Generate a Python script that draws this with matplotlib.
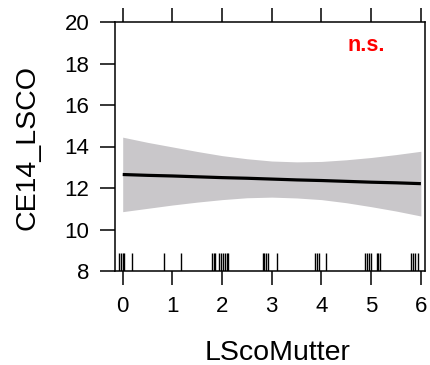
import matplotlib
matplotlib.use("Agg")
import matplotlib.pyplot as plt
import numpy as np

# Fitted effect of LScoMutter on CE14_LSCO with 95% confidence band
grid_x = [0, 0.5, 1, 1.5, 2, 2.5, 3, 3.5, 4, 4.5, 5, 5.5, 6]
fit_y = [12.65, 12.61, 12.58, 12.54, 12.50, 12.47, 12.43, 12.39, 12.36, 12.32, 12.28, 12.25, 12.21]
band_upper = [14.45, 14.20, 13.98, 13.76, 13.56, 13.41, 13.30, 13.26, 13.28, 13.36, 13.47, 13.61, 13.77]
band_lower = [10.86, 11.02, 11.18, 11.32, 11.44, 11.53, 11.56, 11.52, 11.44, 11.29, 11.10, 10.89, 10.65]

# Observed (jittered) LScoMutter values shown as a rug
rug_x = [-0.07, -0.03, 0.00, 0.03, 0.18, 0.83, 1.17, 1.79, 1.83, 1.86, 1.94, 1.98,
         2.02, 2.06, 2.10, 2.12, 2.82, 2.85, 2.88, 2.93, 3.10, 3.87, 3.90, 3.96,
         4.10, 4.88, 4.92, 4.96, 5.00, 5.11, 5.14, 5.18, 5.81, 5.85, 5.88, 5.95]

x_ticks = [0, 1, 2, 3, 4, 5, 6]
y_ticks = [8, 10, 12, 14, 16, 18, 20]

plt.rcParams['font.family'] = ['Liberation Sans', 'DejaVu Sans']

W, H = 431, 365
fig = plt.figure(figsize=(W / 100, H / 100), dpi=100)
left, right, top, bottom = 115.3, 425.0, 22.0, 271.0
ax = fig.add_axes([left / W, 1 - bottom / H, (right - left) / W, (bottom - top) / H])

ax.fill_between(grid_x, band_lower, band_upper, color='#c9c7ca', linewidth=0)
ax.plot(grid_x, fit_y, color='black', linewidth=2.3, solid_capstyle='butt')
ax.vlines(rug_x, 8, 8.87, color='black', linewidth=1.0)

ax.set_xlim(-0.149, 6.083)
ax.set_ylim(8, 20)
ax.set_xticks(x_ticks)
ax.set_yticks(y_ticks)
ax.set_xticklabels([str(v) for v in x_ticks])
ax.set_yticklabels([str(v) for v in y_ticks])

for s in ax.spines.values():
    s.set_linewidth(1.1)
    s.set_color('black')

ax.tick_params(axis='x', which='both', direction='out', length=10, width=1.1,
               top=True, bottom=True, labeltop=False, labelsize=16, pad=8)
ax.tick_params(axis='y', which='both', direction='out', length=10.5, width=1.1,
               left=True, right=False, labelsize=16, pad=8)

fig.text(278 / W, 1 - 360 / H, 'LScoMutter', fontsize=20.5, ha='center', va='baseline')
fig.text(35 / W, 1 - 147.5 / H, 'CE14_LSCO', fontsize=20.5, rotation=90,
         rotation_mode='anchor', ha='center', va='baseline')
fig.text(366.7 / W, 1 - 50.7 / H, 'n.s.', fontsize=15.5, fontweight='bold',
         color='#ff0000', ha='center', va='baseline')

fig.savefig('out.png', dpi=100)
